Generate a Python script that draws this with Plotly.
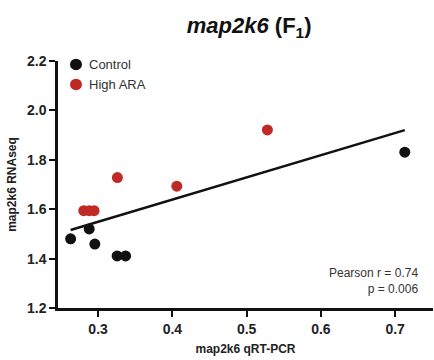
import plotly.graph_objects as go

# Data
control_x = [0.263, 0.288, 0.2956, 0.3256, 0.337, 0.713]
control_y = [1.480, 1.520, 1.459, 1.411, 1.411, 1.831]
high_x = [0.2807, 0.288, 0.2946, 0.326, 0.406, 0.528]
high_y = [1.594, 1.594, 1.594, 1.728, 1.693, 1.921]
fit_x = [0.263, 0.713]
fit_y = [1.516, 1.920]
x_ticks = [0.3, 0.4, 0.5, 0.6, 0.7]
y_ticks = [1.2, 1.4, 1.6, 1.8, 2.0, 2.2]
group_names = ["Control", "High ARA"]

FONT = "Arial, 'Liberation Sans', sans-serif"
RED = "#bf2a25"
BLACK = "#111111"
group_colors = [BLACK, RED]

fig = go.Figure()
fig.add_trace(go.Scatter(x=fit_x, y=fit_y, mode="lines",
                         line=dict(color=BLACK, width=2.5), showlegend=False,
                         hoverinfo="skip"))
fig.add_trace(go.Scatter(x=control_x, y=control_y, mode="markers", name=group_names[0],
                         marker=dict(color=BLACK, size=11), showlegend=False))
fig.add_trace(go.Scatter(x=high_x, y=high_y, mode="markers", name=group_names[1],
                         marker=dict(color=RED, size=11), showlegend=False))

# manual legend (symbol close to text, as in the reference)
shapes = []
annotations = []
leg_x = 0.048
leg_y = [0.986, 0.905]
for name, col, ly in zip(group_names, group_colors, leg_y):
    shapes.append(dict(type="circle", xref="paper", yref="paper",
                       xsizemode="pixel", ysizemode="pixel",
                       xanchor=leg_x, yanchor=ly, x0=-6, x1=6, y0=-5.8, y1=5.8,
                       fillcolor=col, line=dict(width=0)))
    annotations.append(dict(text=name, xref="paper", yref="paper", x=leg_x, y=ly,
                            xshift=11, xanchor="left", yanchor="middle",
                            showarrow=False, font=dict(size=13, color="#333")))

annotations.append(dict(text="Pearson r = 0.74<br>p = 0.006", xref="paper", yref="paper",
                        x=0.965, y=0.11, xanchor="right", yanchor="middle", align="right",
                        showarrow=False, font=dict(size=12, color="#333")))

fig.update_layout(
    width=434, height=360,
    margin=dict(l=58, r=1, t=61, b=52),
    paper_bgcolor="white", plot_bgcolor="white",
    font=dict(family=FONT, color="#222"),
    title=dict(text="<b><i>map2k6</i> (F<sub>1</sub>)</b>",
               x=0.574, xanchor="center", y=0.93, yanchor="middle",
               font=dict(size=22, color="#111")),
    showlegend=False,
    shapes=shapes,
    annotations=annotations,
)
fig.update_xaxes(range=[0.246, 0.751], tickvals=x_ticks,
                 ticktext=[f"<b>{v:.1f}</b>" for v in x_ticks],
                 showgrid=False, zeroline=False, showline=True,
                 linecolor=BLACK, linewidth=2.5, ticks="outside", ticklen=6,
                 tickwidth=2, tickcolor=BLACK, tickfont=dict(size=14, color="#222"),
                 title=dict(text="<b>map2k6 qRT-PCR</b>", font=dict(size=12, color="#222"),
                            standoff=10))
fig.update_yaxes(range=[1.2, 2.2], tickvals=y_ticks,
                 ticktext=[f"<b>{v:.1f}</b>" for v in y_ticks],
                 showgrid=False, zeroline=False, showline=True,
                 linecolor=BLACK, linewidth=2.5, ticks="outside", ticklen=6,
                 tickwidth=2, tickcolor=BLACK, tickfont=dict(size=14, color="#222"),
                 title=dict(text="<b>map2k6 RNAseq</b>", font=dict(size=12, color="#222"),
                            standoff=8))

fig.write_html("out.html")
